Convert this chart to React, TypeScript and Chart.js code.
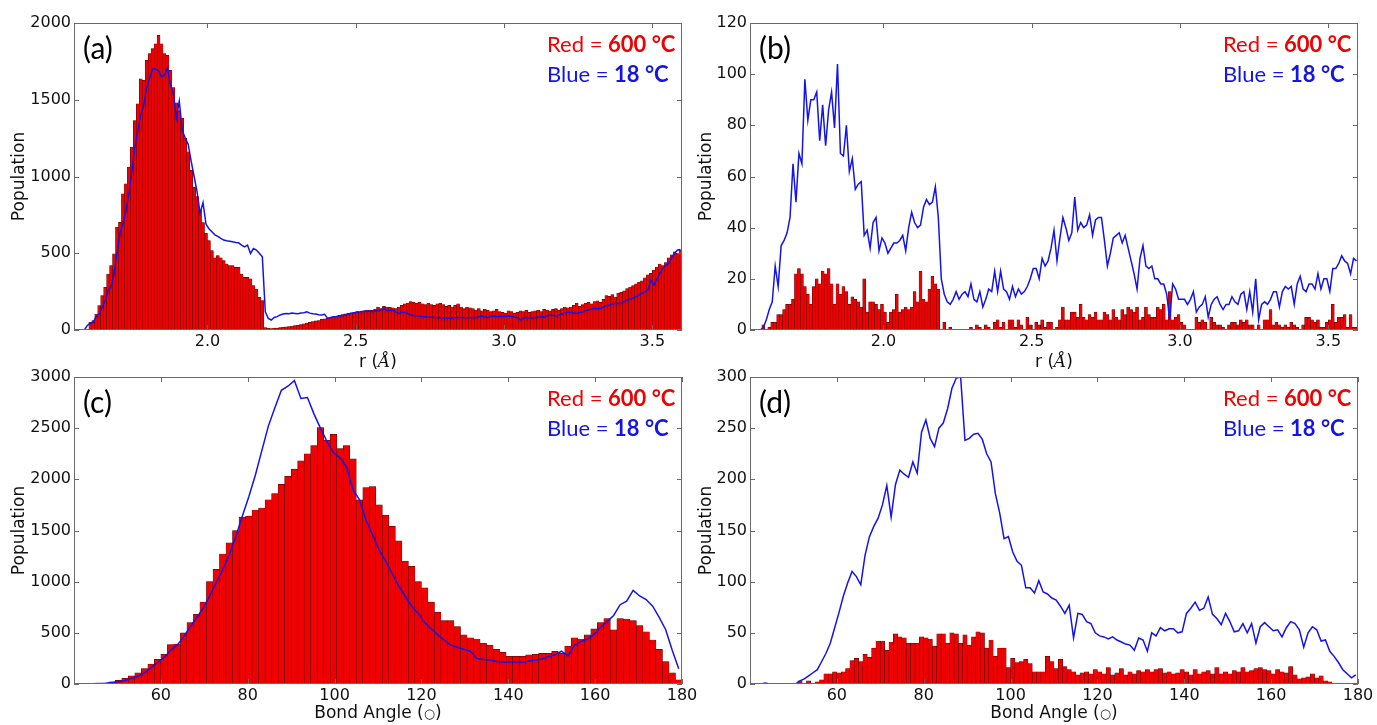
import { useEffect, useRef } from "react";
import { Chart, registerables } from "chart.js";

Chart.register(...registerables);

// ---------------- data ----------------
// Panels (a),(b): histogram of distance r, bins of 0.01 Å starting at 1.55 Å
const R_BIN_START = 1.55;
const R_BIN_WIDTH = 0.01;
const R_TICKS = [2.0, 2.5, 3.0, 3.5];

const redA = [
  0, 0, 0, 0, 0, 50, 61, 104, 159, 224,
  278, 365, 420, 496, 670, 702, 887, 952, 1061, 1191,
  1365, 1474, 1637, 1626, 1757, 1800, 1833, 1865, 1920, 1865,
  1800, 1789, 1691, 1580, 1480, 1430, 1380, 1250, 1160, 1040,
  930, 870, 780, 700, 630, 583, 517, 470, 485, 470,
  452, 430, 420, 420, 409, 409, 365, 343, 343, 333,
  289, 267, 213, 191, 15, 12, 10, 12, 12, 15,
  17, 20, 22, 26, 28, 30, 35, 40, 45, 50,
  55, 60, 62, 70, 72, 78, 82, 85, 90, 95,
  100, 105, 108, 112, 115, 120, 118, 122, 125, 130,
  128, 135, 150, 140, 155, 150, 148, 145, 140, 150,
  160, 170, 175, 185, 180, 175, 182, 170, 165, 175,
  165, 160, 170, 175, 165, 155, 160, 150, 160, 170,
  150, 140, 150, 145, 140, 130, 140, 125, 135, 130,
  120, 125, 135, 120, 115, 110, 125, 120, 110, 115,
  125, 120, 130, 115, 120, 125, 130, 120, 135, 130,
  125, 135, 140, 130, 140, 150, 145, 150, 160, 175,
  155, 165, 175, 180, 170, 185, 190, 180, 200, 225,
  220, 230, 215, 240, 245, 255, 270, 280, 290, 300,
  310, 320, 340, 360, 370, 390, 410, 430, 420, 440,
  470, 490, 510, 500, 520,
];

const blueA = [
  0, 0, 0, 0, 30, 45, 50, 90, 105, 150,
  190, 260, 280, 370, 500, 630, 690, 780, 890, 1030,
  1190, 1300, 1400, 1460, 1580, 1640, 1700, 1700, 1690, 1650,
  1660, 1710, 1600, 1540, 1380, 1490, 1300, 1250, 1210, 1100,
  1000, 900, 760, 830, 690, 660, 640, 620, 610, 597,
  586, 581, 578, 575, 570, 568, 553, 542, 553, 499,
  531, 521, 500, 477, 119, 75, 65, 82, 87, 98,
  104, 108, 106, 110, 108, 106, 110, 112, 119, 110,
  106, 104, 100, 98, 102, 76, 82, 86, 88, 91,
  94, 98, 104, 110, 113, 118, 119, 122, 126, 122,
  119, 124, 126, 132, 141, 126, 128, 130, 118, 108,
  116, 119, 108, 98, 95, 92, 90, 87, 86, 84,
  83, 82, 80, 82, 78, 77, 76, 78, 80, 82,
  81, 80, 79, 80, 82, 80, 86, 91, 86, 82,
  88, 91, 86, 89, 87, 90, 91, 88, 84, 82,
  65, 78, 82, 80, 81, 80, 83, 87, 84, 92,
  98, 94, 91, 98, 104, 110, 116, 119, 110, 108,
  114, 119, 125, 130, 136, 141, 138, 141, 150, 158,
  163, 170, 174, 172, 174, 185, 195, 200, 208, 217,
  228, 239, 250, 260, 326, 293, 330, 369, 401, 420,
  434, 470, 500, 521, 525,
];

const redB = [
  0, 0, 0, 0, 2, 0, 1, 3, 3, 6,
  6, 8, 10, 10, 12, 22, 24, 22, 17, 14,
  10, 17, 20, 18, 23, 22, 24, 18, 10, 18,
  14, 17, 15, 10, 13, 12, 11, 9, 20, 7,
  11, 11, 10, 8, 10, 7, 3, 7, 8, 14,
  7, 8, 9, 8, 9, 15, 11, 23, 12, 11,
  16, 21, 18, 16, 0, 3, 0, 1, 0, 0,
  0, 0, 0, 0, 1, 0, 2, 1, 0, 2,
  1, 0, 3, 4, 1, 3, 0, 4, 4, 1,
  4, 2, 0, 5, 2, 0, 3, 2, 4, 1,
  3, 3, 0, 1, 4, 9, 4, 4, 7, 7,
  5, 10, 5, 4, 6, 5, 7, 4, 4, 7,
  6, 4, 8, 5, 4, 8, 6, 9, 8, 7,
  9, 4, 5, 9, 6, 5, 5, 9, 8, 10,
  4, 15, 4, 5, 6, 3, 2, 0, 0, 0,
  5, 3, 4, 3, 0, 5, 3, 2, 2, 1,
  0, 2, 3, 3, 2, 4, 3, 4, 2, 2,
  0, 2, 0, 4, 4, 8, 2, 3, 2, 1,
  2, 1, 3, 2, 1, 0, 2, 5, 5, 4,
  3, 4, 1, 1, 3, 4, 10, 3, 5, 5,
  6, 1, 6, 1, 1,
];

const blueB = [
  0, 0, 0, 0, 1, 4, 8, 11, 25, 17,
  33, 35, 38, 44, 65, 50, 69, 65, 98, 82,
  90, 90, 93, 74, 88, 72, 86, 93, 79, 104,
  69, 68, 80, 62, 67, 55, 57, 58, 37, 39,
  32, 42, 44, 31, 36, 34, 30, 32, 34, 34,
  35, 37, 31, 40, 46, 42, 40, 41, 48, 51,
  49, 50, 56, 44, 20, 14, 11, 10, 12, 15,
  12, 14, 15, 13, 18, 12, 11, 15, 9, 12,
  16, 15, 23, 15, 23, 16, 15, 12, 17, 13,
  16, 14, 15, 17, 20, 24, 24, 20, 28, 25,
  27, 32, 39, 27, 36, 44, 40, 35, 38, 52,
  39, 42, 40, 41, 45, 37, 43, 44, 44, 35,
  25, 30, 36, 37, 38, 34, 37, 32, 27, 22,
  16, 28, 33, 25, 24, 25, 20, 20, 18, 18,
  14, 4, 18, 16, 12, 12, 12, 10, 12, 15,
  7, 9, 10, 13, 5, 10, 12, 13, 10, 8,
  10, 10, 13, 11, 10, 14, 15, 8, 15, 7,
  20, 4, 10, 11, 10, 12, 15, 15, 9, 15,
  17, 16, 17, 10, 18, 21, 16, 15, 18, 18,
  16, 22, 16, 20, 20, 15, 24, 24, 26, 29,
  27, 26, 22, 28, 27,
];

// Panel (c): bond angle histogram, bins of 1.5° starting at 40.5°
const C_BIN_START = 40.5;
const C_BIN_WIDTH = 1.5;
const redC = [
  0, 0, 0, 4, 10, 20, 35, 55, 80, 110,
  150, 195, 240, 290, 385, 390, 500, 600, 680, 800,
  1000, 1120, 1270, 1380, 1500, 1630, 1640, 1700, 1720, 1800,
  1860, 1950, 2030, 2100, 2180, 2250, 2330, 2505, 2380, 2440,
  2300, 2330, 2200, 1800, 1920, 1930, 1750, 1650, 1540, 1400,
  1200, 1150, 1000, 940, 800, 700, 620, 620, 560, 480,
  450, 440, 400, 380, 340, 310, 270, 270, 270, 285,
  290, 300, 300, 320, 300, 370, 450, 440, 480, 540,
  600, 640, 530, 640, 635, 620, 570, 510, 430, 340,
  220, 110, 40,
];
const blueC = [
  0, 0, 2, 5, 8, 15, 22, 35, 55, 75,
  110, 160, 210, 260, 330, 380, 460, 560, 650, 740,
  860, 990, 1120, 1260, 1440, 1640, 1830, 2040, 2280, 2520,
  2700, 2870, 2910, 2965, 2790, 2800, 2640, 2500, 2370, 2260,
  2210, 2120, 1900, 1800, 1600, 1460, 1310, 1200, 1080, 960,
  860, 760, 690, 600, 540, 480, 430, 380, 360, 340,
  320, 250, 240, 235, 220, 212, 215, 218, 210, 225,
  235, 245, 268, 285, 320, 275, 380, 415, 440, 485,
  555, 610, 670, 775, 810, 915, 860, 825, 760, 650,
  530, 330, 150,
];

// Panel (d): bond angle histogram, bins of 1° starting at 40°
const D_BIN_START = 40;
const D_BIN_WIDTH = 1;
const redD = [
  0, 0, 0, 0, 0, 0, 0, 0, 0, 0,
  0, 3, 1, 3, 0, 2, 4, 10, 10, 12,
  11, 12, 15, 23, 25, 22, 29, 26, 35, 42,
  42, 33, 41, 49, 46, 45, 40, 40, 40, 46,
  45, 44, 37, 49, 49, 40, 50, 49, 40, 48,
  38, 46, 51, 50, 35, 43, 27, 35, 35, 16,
  25, 21, 22, 24, 20, 12, 12, 12, 27, 22,
  15, 24, 17, 14, 12, 9, 11, 12, 10, 14,
  12, 10, 16, 9, 11, 15, 9, 12, 10, 13,
  12, 14, 12, 14, 15, 11, 12, 10, 11, 14,
  12, 9, 14, 10, 12, 13, 10, 16, 10, 12,
  10, 13, 12, 16, 12, 13, 15, 16, 14, 13,
  10, 14, 12, 11, 17, 9, 5, 6, 7, 10,
  6, 8, 3, 2, 1, 1, 0, 1, 0, 1,
];
const blueD = [
  0, 0, 0, 1, 0, 0, 0, 0, 0, 0,
  0, 3, 5, 8, 11, 14, 22, 30, 40, 55,
  70, 86, 99, 110, 105, 97, 126, 144, 154, 162,
  175, 194, 163, 195, 209, 205, 202, 217, 206, 246,
  258, 240, 232, 250, 255, 269, 289, 299, 300, 238,
  240, 244, 245, 239, 225, 217, 186, 167, 142, 144,
  129, 120, 116, 94, 94, 89, 101, 90, 88, 84,
  82, 76, 69, 77, 45, 69, 68, 61, 59, 50,
  47, 46, 44, 46, 43, 41, 39, 38, 33, 45,
  43, 32, 50, 47, 55, 52, 54, 54, 50, 51,
  69, 74, 80, 72, 74, 85, 68, 64, 58, 69,
  61, 51, 52, 59, 50, 59, 40, 56, 60, 56,
  52, 53, 46, 55, 61, 59, 53, 36, 50, 56,
  53, 42, 43, 32, 27, 21, 14, 10, 6, 9,
];

const ANGLE_TICKS = [60, 80, 100, 120, 140, 160, 180];
const Y_TICKS_A = [0, 500, 1000, 1500, 2000];
const Y_TICKS_B = [0, 20, 40, 60, 80, 100, 120];
const Y_TICKS_C = [0, 500, 1000, 1500, 2000, 2500, 3000];
const Y_TICKS_D = [0, 50, 100, 150, 200, 250, 300];

const Y_TITLE = "Population";
const RED_LEGEND = ["Red = ", "600 °C"];
const BLUE_LEGEND = ["Blue = ", "18 °C"];

// ---------------- styles ----------------
const RED = "#f00000";
const RED_EDGE = "#4a0000";
const BLUE = "#1414e6";
const TEXT = "#111111";
const FRAME = "#6a6a6a";
const SANS = "DejaVu Sans";

type Run = { text: string; font: string; color: string };

interface PanelDef {
  key: string;
  label: string;
  left: number;
  top: number;
  width: number;
  height: number;
  padRight: number;
  xAxisH: number;
  yTitlePad: number;
  binStart: number;
  binWidth: number;
  red: number[];
  blue: number[];
  xMin: number;
  xMax: number;
  xTicks: number[];
  xDecimals: number;
  yMax: number;
  yTicks: number[];
  xTitle: Run[];
  xTitleDrop: number;
}

const R_TITLE: Run[] = [
  { text: "r (", font: `17px "${SANS}"`, color: TEXT },
  { text: "Å", font: `italic 17px "DejaVu Serif"`, color: TEXT },
  { text: ")", font: `17px "${SANS}"`, color: TEXT },
];
const ANGLE_TITLE: Run[] = [
  { text: "Bond Angle (", font: `17px "${SANS}"`, color: TEXT },
  { text: "○", font: `13px "${SANS}"`, color: TEXT },
  { text: ")", font: `17px "${SANS}"`, color: TEXT },
];

const PANELS: PanelDef[] = [
  {
    key: "a", label: "(a)", left: 0, top: 0, width: 690, height: 372, padRight: 8, xAxisH: 42, yTitlePad: 9,
    binStart: R_BIN_START, binWidth: R_BIN_WIDTH, red: redA, blue: blueA,
    xMin: 1.55, xMax: 3.6, xTicks: R_TICKS, xDecimals: 1, yMax: 2000, yTicks: Y_TICKS_A,
    xTitle: R_TITLE, xTitleDrop: 37,
  },
  {
    key: "b", label: "(b)", left: 676, top: 0, width: 690, height: 372, padRight: 8, xAxisH: 42, yTitlePad: 20,
    binStart: R_BIN_START, binWidth: R_BIN_WIDTH, red: redB, blue: blueB,
    xMin: 1.55, xMax: 3.6, xTicks: R_TICKS, xDecimals: 1, yMax: 120, yTicks: Y_TICKS_B,
    xTitle: R_TITLE, xTitleDrop: 37,
  },
  {
    key: "c", label: "(c)", left: 0, top: 354, width: 700, height: 370, padRight: 18, xAxisH: 40, yTitlePad: 9,
    binStart: C_BIN_START, binWidth: C_BIN_WIDTH, red: redC, blue: blueC,
    xMin: 40, xMax: 180, xTicks: ANGLE_TICKS, xDecimals: 0, yMax: 3000, yTicks: Y_TICKS_C,
    xTitle: ANGLE_TITLE, xTitleDrop: 34,
  },
  {
    key: "d", label: "(d)", left: 676, top: 354, width: 700, height: 370, padRight: 18, xAxisH: 40, yTitlePad: 20,
    binStart: D_BIN_START, binWidth: D_BIN_WIDTH, red: redD, blue: blueD,
    xMin: 40, xMax: 180, xTicks: ANGLE_TICKS, xDecimals: 0, yMax: 300, yTicks: Y_TICKS_D,
    xTitle: ANGLE_TITLE, xTitleDrop: 34,
  },
];

function drawRuns(ctx: CanvasRenderingContext2D, runs: Run[], x: number, y: number, align: "left" | "center") {
  ctx.textBaseline = "alphabetic";
  ctx.textAlign = "left";
  let total = 0;
  for (const r of runs) {
    ctx.font = r.font;
    total += ctx.measureText(r.text).width;
  }
  let cx = align === "center" ? x - total / 2 : x;
  for (const r of runs) {
    ctx.font = r.font;
    ctx.fillStyle = r.color;
    ctx.fillText(r.text, cx, y);
    cx += ctx.measureText(r.text).width;
  }
}

function PanelChart({ p }: { p: PanelDef }) {
  const ref = useRef<HTMLCanvasElement | null>(null);

  useEffect(() => {
    const canvas = ref.current;
    if (!canvas) return;
    const centers = p.red.map((_, i) => +(p.binStart + p.binWidth * (i + 0.5)).toFixed(4));
    const barData = p.red.map((v, i) => ({ x: centers[i], y: v }));
    const lineData = p.blue.map((v, i) => ({ x: centers[i], y: v }));

    const decor = {
      id: "decor" + p.key,
      afterDatasetsDraw(chart: any) {
        const ctx: CanvasRenderingContext2D = chart.ctx;
        const a = chart.chartArea;
        const xs = chart.scales.x;
        const ys = chart.scales.y;
        ctx.save();
        ctx.strokeStyle = FRAME;
        ctx.lineWidth = 1;
        ctx.strokeRect(a.left + 0.5, a.top + 0.5, a.right - a.left - 1, a.bottom - a.top - 1);
        ctx.beginPath();
        for (const v of p.xTicks) {
          const px = Math.round(xs.getPixelForValue(v)) + 0.5;
          ctx.moveTo(px, a.bottom);
          ctx.lineTo(px, a.bottom - 5);
          ctx.moveTo(px, a.top);
          ctx.lineTo(px, a.top + 5);
        }
        for (const v of p.yTicks) {
          const py = Math.round(ys.getPixelForValue(v)) + 0.5;
          ctx.moveTo(a.left, py);
          ctx.lineTo(a.left + 5, py);
          ctx.moveTo(a.right, py);
          ctx.lineTo(a.right - 5, py);
        }
        ctx.stroke();

        drawRuns(ctx, [{ text: p.label, font: "30px Lato", color: "#000" }], a.left + 9, a.top + 36, "left");
        drawRuns(ctx, [
          { text: RED_LEGEND[0], font: "22px Lato", color: RED },
          { text: RED_LEGEND[1], font: "bold 22px Lato", color: RED },
        ], a.left + 473, a.top + 29, "left");
        drawRuns(ctx, [
          { text: BLUE_LEGEND[0], font: "22px Lato", color: BLUE },
          { text: BLUE_LEGEND[1], font: "bold 22px Lato", color: BLUE },
        ], a.left + 473, a.top + 58.5, "left");
        drawRuns(ctx, p.xTitle, (a.left + a.right) / 2, a.bottom + p.xTitleDrop, "center");
        ctx.restore();
      },
    };

    const chart = new Chart(canvas, {
      type: "bar",
      data: {
        datasets: [
          {
            type: "line",
            data: lineData,
            borderColor: BLUE,
            borderWidth: 1.5,
            pointRadius: 0,
            tension: 0,
            fill: false,
            order: 0,
          } as any,
          {
            type: "bar",
            data: barData,
            backgroundColor: RED,
            borderColor: RED_EDGE,
            borderWidth: 0.5,
            barPercentage: 1,
            categoryPercentage: 1,
            grouped: false,
            order: 1,
          } as any,
        ],
      },
      options: {
        responsive: false,
        animation: false,
        events: [],
        devicePixelRatio: 1,
        layout: { padding: { left: 0, top: 23, right: p.padRight, bottom: 0 } },
        plugins: { legend: { display: false }, tooltip: { enabled: false }, title: { display: false } },
        scales: {
          x: {
            type: "linear",
            min: p.xMin,
            max: p.xMax,
            offset: false,
            grid: { display: false, drawTicks: false },
            border: { display: false },
            ticks: {
              font: { family: SANS, size: 16 },
              color: TEXT,
              padding: 2,
              maxRotation: 0,
              autoSkip: false,
              callback: (v: any) => Number(v).toFixed(p.xDecimals),
            },
            afterBuildTicks: (s: any) => {
              s.ticks = p.xTicks.map((v) => ({ value: v }));
            },
            afterFit: (s: any) => {
              s.height = p.xAxisH;
            },
          },
          y: {
            type: "linear",
            min: 0,
            max: p.yMax,
            grid: { display: false, drawTicks: false },
            border: { display: false },
            ticks: {
              font: { family: SANS, size: 16 },
              color: TEXT,
              padding: 3,
              callback: (v: any) => String(v),
            },
            afterBuildTicks: (s: any) => {
              s.ticks = p.yTicks.map((v) => ({ value: v }));
            },
            afterFit: (s: any) => {
              s.width = 74;
            },
            title: {
              display: true,
              text: Y_TITLE,
              font: { family: SANS, size: 17 },
              color: TEXT,
              padding: { top: p.yTitlePad, bottom: 0 },
            },
          },
        },
      } as any,
      plugins: [decor],
    });
    return () => chart.destroy();
  }, [p]);

  return (
    <canvas
      ref={ref}
      width={p.width}
      height={p.height}
      style={{ position: "absolute", left: p.left, top: p.top, width: p.width, height: p.height }}
    />
  );
}

export default function App() {
  return (
    <div
      style={{
        position: "fixed",
        left: 0,
        top: 0,
        width: 1377,
        height: 725,
        background: "#ffffff",
        overflow: "hidden",
      }}
    >
      {PANELS.map((p) => (
        <PanelChart key={p.key} p={p} />
      ))}
    </div>
  );
}
